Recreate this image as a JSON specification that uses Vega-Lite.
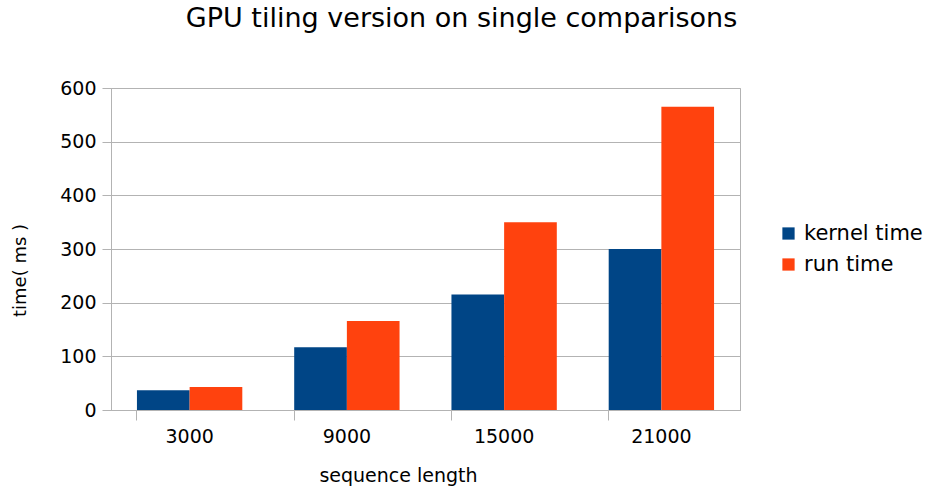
{
  "$schema": "https://vega.github.io/schema/vega-lite/v6.json",
  "autosize": {"type": "none"},
  "width": 629,
  "height": 322,
  "padding": {"left": 111, "top": 88, "right": 189, "bottom": 83},
  "background": "white",
  "title": {
    "text": "GPU tiling version on single comparisons",
    "font": "DejaVu Sans",
    "fontSize": 27,
    "fontWeight": "normal",
    "color": "#000000",
    "anchor": "middle",
    "frame": "group",
    "dx": 36,
    "offset": 46
  },
  "config": {
    "view": {"stroke": "#b3b3b3", "strokeWidth": 1},
    "font": "DejaVu Sans",
    "axis": {
      "labelFont": "DejaVu Sans",
      "titleFont": "DejaVu Sans",
      "labelFontSize": 19,
      "titleFontSize": 19,
      "titleFontWeight": "normal",
      "labelColor": "#000000",
      "titleColor": "#000000",
      "domainColor": "#b3b3b3",
      "tickColor": "#b3b3b3",
      "gridColor": "#b3b3b3",
      "tickSize": 9
    },
    "legend": {
      "labelFont": "DejaVu Sans",
      "labelFontSize": 21,
      "labelColor": "#000000"
    }
  },
  "data": {
    "values": [
      {"length": "3000", "series": "kernel time", "time": 37},
      {"length": "3000", "series": "run time", "time": 43},
      {"length": "9000", "series": "kernel time", "time": 117},
      {"length": "9000", "series": "run time", "time": 166},
      {"length": "15000", "series": "kernel time", "time": 215},
      {"length": "15000", "series": "run time", "time": 350},
      {"length": "21000", "series": "kernel time", "time": 300},
      {"length": "21000", "series": "run time", "time": 565}
    ]
  },
  "mark": {"type": "bar"},
  "encoding": {
    "x": {
      "field": "length",
      "type": "nominal",
      "sort": ["3000", "9000", "15000", "21000"],
      "scale": {"paddingInner": 0.33, "paddingOuter": 0.165},
      "axis": {
        "title": "sequence length",
        "labelAngle": 0,
        "bandPosition": 0,
        "tickSize": 10,
        "labelPadding": 7,
        "titlePadding": 20,
        "titleX": 287,
        "domain": true
      }
    },
    "xOffset": {
      "field": "series",
      "type": "nominal",
      "sort": ["kernel time", "run time"],
      "scale": {"paddingInner": 0, "paddingOuter": 0}
    },
    "y": {
      "field": "time",
      "type": "quantitative",
      "scale": {"domain": [0, 600], "nice": false},
      "axis": {
        "title": "time( ms )",
        "titleFontSize": 18,
        "values": [0, 100, 200, 300, 400, 500, 600],
        "labelPadding": 6,
        "titlePadding": 30,
        "titleY": 182,
        "grid": true,
        "domain": true
      }
    },
    "color": {
      "field": "series",
      "type": "nominal",
      "sort": ["kernel time", "run time"],
      "scale": {"domain": ["kernel time", "run time"], "range": ["#004586", "#ff420e"]},
      "legend": {
        "title": null,
        "orient": "none",
        "legendX": 667,
        "legendY": 135,
        "symbolType": "square",
        "symbolSize": 150,
        "symbolStrokeWidth": 0,
        "symbolOpacity": 1,
        "rowPadding": 9,
        "labelOffset": 5
      }
    }
  }
}
